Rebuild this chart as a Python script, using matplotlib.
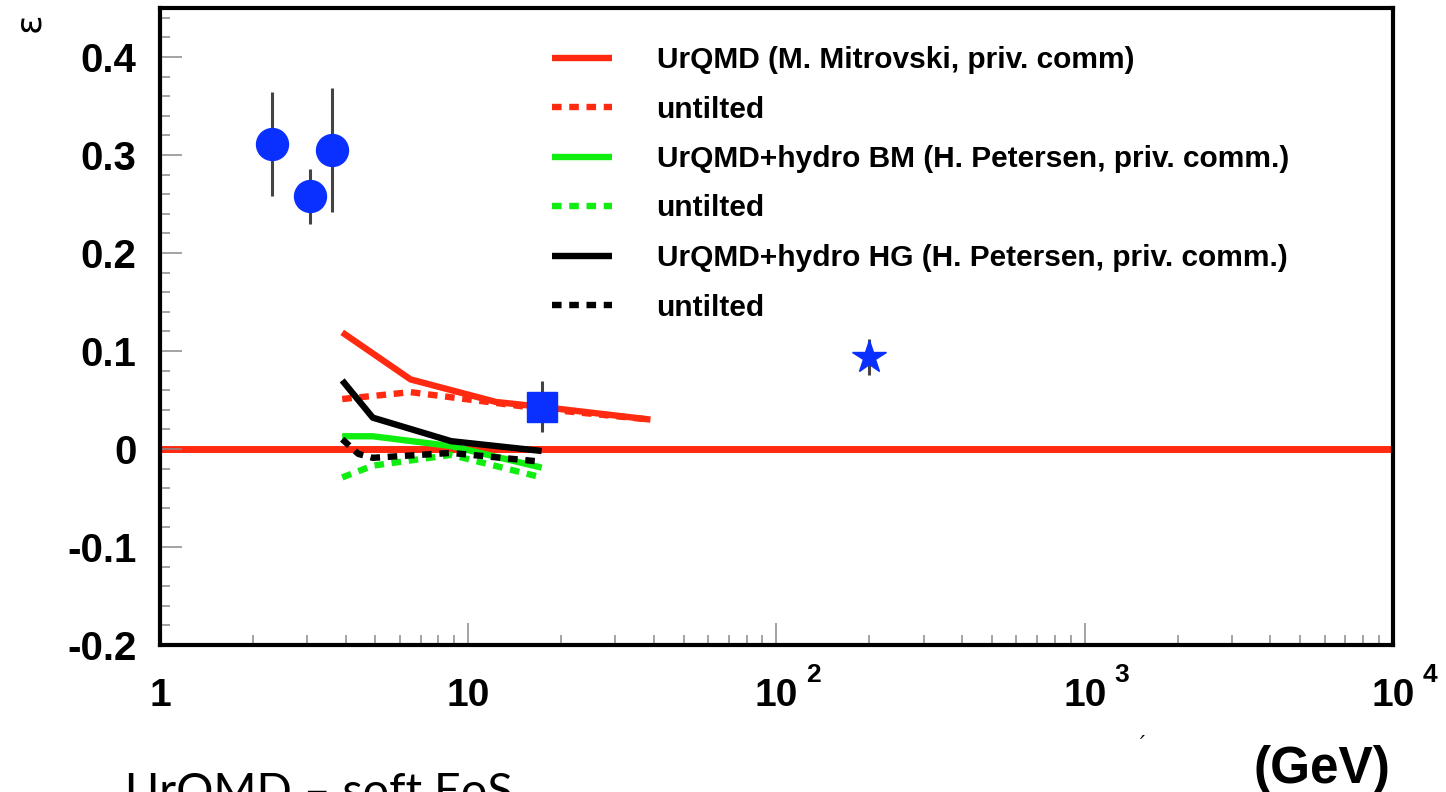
import matplotlib
matplotlib.use("Agg")
import matplotlib.pyplot as plt
from matplotlib.lines import Line2D
import numpy as np

# ---- data ----
# measurements
circ_x = [2.31, 3.07, 3.62]
circ_y = [0.311, 0.258, 0.305]
circ_err = [0.053, 0.028, 0.063]

sq_x = [17.3]
sq_y = [0.043]
sq_err = [0.026]

star_x = [200.0]
star_y = [0.094]
star_err = [0.018]

# model curves
urqmd_x = [3.9, 6.5, 12.3, 17.3, 39.0]
urqmd_tilted = [0.119, 0.071, 0.048, 0.043, 0.030]
urqmd_untilted = [0.051, 0.058, 0.047, 0.041, 0.030]

bm_x = [3.9, 4.9, 8.8, 17.3]
bm_tilted = [0.013, 0.013, 0.003, -0.019]
bm_untilted = [-0.029, -0.017, -0.006, -0.029]

hg_x = [3.9, 4.9, 8.8, 17.3]
hg_tilted = [0.070, 0.032, 0.008, -0.002]
hg_untilted_x = [3.9, 4.4, 4.9, 8.8, 17.3]
hg_untilted = [0.010, -0.005, -0.009, -0.004, -0.013]

legend_labels = [
    "UrQMD (M. Mitrovski, priv. comm)",
    "untilted",
    "UrQMD+hydro BM (H. Petersen, priv. comm.)",
    "untilted",
    "UrQMD+hydro HG (H. Petersen, priv. comm.)",
    "untilted",
]

y_ticks = [-0.2, -0.1, 0.0, 0.1, 0.2, 0.3, 0.4]
y_ticklabels = ["-0.2", "-0.1", "0", "0.1", "0.2", "0.3", "0.4"]
x_ticks = [1, 10, 100, 1000, 10000]
x_base = ["1", "10", "10", "10", "10"]
x_exp = ["", "", "2", "3", "4"]

RED = "#ff2a10"
GREEN = "#10ee10"
BLUE = "#0a30ff"
BLACK = "#000000"

BOLD = "Liberation Sans"

W, H = 1446, 792
fig = plt.figure(figsize=(W / 100, H / 100), dpi=100)
ax = fig.add_axes([160 / W, 1 - 645 / H, (1393 - 160) / W, (645 - 8) / H])
ax.set_xscale("log")
ax.set_xlim(1, 1e4)
ax.set_ylim(-0.2, 0.45)

lw = 4.6
dots = (0, (1.5, 1.2))

# zero line
ax.axhline(0.0, color=RED, lw=5, zorder=1)

ax.plot(urqmd_x, urqmd_tilted, color=RED, lw=lw, solid_capstyle="butt", zorder=3)
ax.plot(urqmd_x, urqmd_untilted, color=RED, lw=lw, ls=dots, dash_capstyle="butt", zorder=3)
ax.plot(bm_x, bm_tilted, color=GREEN, lw=lw, solid_capstyle="butt", zorder=3)
ax.plot(bm_x, bm_untilted, color=GREEN, lw=lw, ls=dots, dash_capstyle="butt", zorder=3)
ax.plot(hg_x, hg_tilted, color=BLACK, lw=lw, solid_capstyle="butt", zorder=3)
ax.plot(hg_untilted_x, hg_untilted, color=BLACK, lw=lw, ls=dots, dash_capstyle="butt", zorder=3)

ecol = "#444444"
ax.errorbar(circ_x, circ_y, yerr=circ_err, fmt="o", color=BLUE, ms=23,
            ecolor=ecol, elinewidth=2.2, capsize=0, zorder=4)
ax.errorbar(sq_x, sq_y, yerr=sq_err, fmt="s", color=BLUE, ms=22,
            ecolor=ecol, elinewidth=2.2, capsize=0, zorder=4)
ax.errorbar(star_x, star_y, yerr=star_err, fmt="*", color=BLUE, ms=25,
            ecolor=ecol, elinewidth=2.2, capsize=0, zorder=4)

# axes styling
for s in ax.spines.values():
    s.set_linewidth(3)
tick_col = "#8a8a8a"
ax.set_yticks(y_ticks)
ax.set_yticklabels(y_ticklabels, fontfamily=BOLD, fontweight="bold", fontsize=29)
ax.yaxis.set_minor_locator(matplotlib.ticker.MultipleLocator(0.02))
ax.tick_params(axis="y", which="major", direction="in", length=16, width=1.1,
               color=tick_col, pad=17, right=False)
ax.tick_params(axis="y", which="minor", direction="in", length=7.5, width=1.1,
               color=tick_col, right=False)

ax.set_xticks(x_ticks)
ax.set_xticklabels([""] * len(x_ticks))
ax.xaxis.set_minor_locator(matplotlib.ticker.LogLocator(base=10, subs=np.arange(2, 10)))
ax.xaxis.set_minor_formatter(matplotlib.ticker.NullFormatter())
ax.tick_params(axis="x", which="major", direction="in", length=16, width=1.1,
               color=tick_col, top=False)
ax.tick_params(axis="x", which="minor", direction="in", length=7.5, width=1.1,
               color=tick_col, top=False)

for v, b, e in zip(x_ticks, x_base, x_exp):
    ax.annotate(b, xy=(v, 0), xycoords=("data", "axes fraction"),
                xytext=(0, -24), textcoords="offset points", ha="center", va="top",
                fontfamily=BOLD, fontweight="bold", fontsize=28)
    if e:
        ax.annotate(e, xy=(v, 0), xycoords=("data", "axes fraction"),
                    xytext=(21, -13), textcoords="offset points", ha="left", va="top",
                    fontfamily=BOLD, fontweight="bold", fontsize=19)

# legend
handles = [
    Line2D([], [], color=RED, lw=lw, solid_capstyle="butt"),
    Line2D([], [], color=RED, lw=lw, ls=dots, dash_capstyle="butt"),
    Line2D([], [], color=GREEN, lw=lw, solid_capstyle="butt"),
    Line2D([], [], color=GREEN, lw=lw, ls=dots, dash_capstyle="butt"),
    Line2D([], [], color=BLACK, lw=lw, solid_capstyle="butt"),
    Line2D([], [], color=BLACK, lw=lw, ls=dots, dash_capstyle="butt"),
]
ax.legend(handles, legend_labels, loc="upper left",
          bbox_to_anchor=((552 - 160) / (1393 - 160), 1 - (46 - 8) / (645 - 8)),
          frameon=False, prop={"family": BOLD, "weight": "bold", "size": 21.5},
          handlelength=2.0, handletextpad=1.5, labelspacing=0.72, borderpad=0.0,
          borderaxespad=0.0)

# axis labels
fig.text(12 / W, 1 - 12 / H, "ε", rotation=90, ha="left", va="top",
         fontsize=26, fontfamily="DejaVu Sans")
fig.text(1390 / W, 1 - 794 / H, "(GeV)", ha="right", va="bottom",
         fontfamily=BOLD, fontweight="bold", fontsize=37)
fig.text(1140 / W, 1 - 735 / H, "′", ha="left", va="top", fontsize=16,
         fontfamily="DejaVu Sans", style="italic")

# slide caption, partly below the lower edge
fig.text(125 / W, 1 - 772 / H, "UrQMD – soft EoS", ha="left", va="top",
         fontfamily="Lato", fontsize=33.5)

fig.savefig("out.png", dpi=100)
